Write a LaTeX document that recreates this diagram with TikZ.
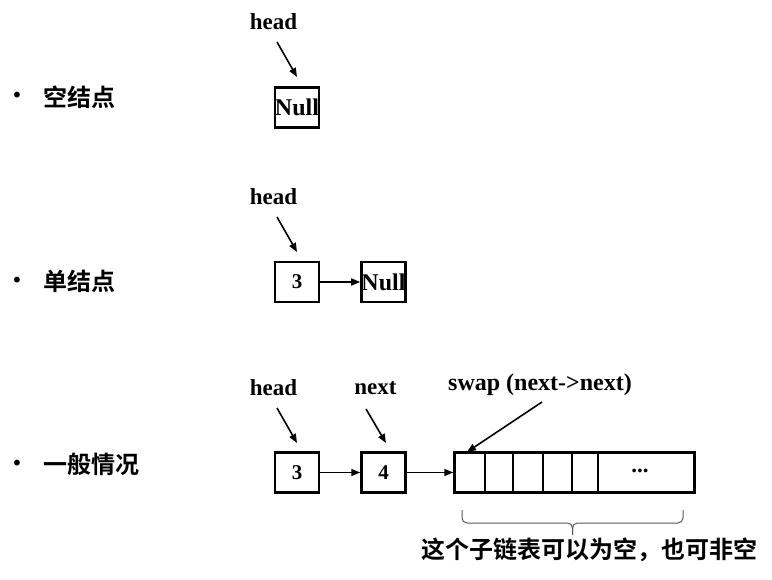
\documentclass[tikz,border=0pt]{standalone}
\usepackage{fontspec}
\setmainfont{Liberation Serif}
\newfontfamily\cjk{Noto Sans CJK SC}[BoldFont={* Bold}]
\newfontfamily\dejavu{DejaVu Sans}
\usetikzlibrary{arrows.meta}
\begin{document}
\begin{tikzpicture}[x=1pt,y=-1pt,
  lbl/.style={font=\fontsize{23}{23}\selectfont\bfseries, inner sep=0pt},
  cn/.style={font=\cjk\bfseries\fontsize{24}{24}\selectfont, inner sep=0pt, anchor=west},
  bul/.style={font=\dejavu\fontsize{20}{20}\selectfont, inner sep=0pt},
  cell/.style={draw, line width=2.5pt, minimum width=44pt, minimum height=40pt, inner sep=0pt,
    font=\fontsize{21}{21}\selectfont\bfseries},
  nullcell/.style={cell, font=\fontsize{24}{24}\selectfont\bfseries},
  ptr/.style={line width=1.6pt, -{Triangle[length=9pt,width=7pt]}},
  bracepath/.style={gray!70!black, line width=1pt, rounded corners=5pt}
]
\useasboundingbox (0,0) rectangle (772,580);
% bullets and labels
\node[bul] (b1) at (17,97) {•};
\node[bul] (b2) at (17,282) {•};
\node[bul] (b3) at (17,465) {•};
\node[cn] (t1) at (43,97) {空结点};
\node[cn] (t2) at (43,281) {单结点};
\node[cn] (t3) at (43,464) {一般情况};
% empty list
\node[lbl] (h1) at (273.5,22) {head};
\node[nullcell] (n1) at (297,107.5) {Null};
\coordinate (h1s) at (277,42);
\coordinate (h1e) at (297,77);
\draw[ptr] (h1s) -- (h1e);
% single node
\node[lbl] (h2) at (273.5,197) {head};
\node[cell] (a2) at (297,282) {3};
\node[nullcell] (n2) at (383.5,282) {Null};
\coordinate (h2s) at (277,217);
\coordinate (h2e) at (297,252);
\draw[ptr] (h2s) -- (h2e);
\draw[ptr] (a2.east) -- (n2.west);
% general case
\node[lbl] (h3) at (273.5,388) {head};
\node[lbl] (nx) at (375.5,388) {next};
\node[lbl, font=\fontsize{24}{24}\selectfont\bfseries] (sw) at (540,385) {swap (next->next)};
\node[cell] (a3) at (297,472.5) {3};
\node[cell] (b4) at (383.5,472.5) {4};
\node[draw, line width=2.5pt, minimum width=240pt, minimum height=40pt, inner sep=0pt] (arr) at (574.5,472.5) {};
\node[lbl] (dots) at (640,471) {...};
\foreach \xx in {485,513,543,572,598}{
  \draw[line width=1.5pt] (\xx,451.5) -- (\xx,493.5);
}
\coordinate (h3s) at (277,408);
\coordinate (h3e) at (297,443);
\coordinate (nxs) at (366,409);
\coordinate (nxe) at (386,443);
\coordinate (sws) at (542,402);
\coordinate (swe) at (467,452);
\draw[ptr] (h3s) -- (h3e);
\draw[ptr] (nxs) -- (nxe);
\draw[ptr] (sws) -- (swe);
\draw[ptr] (a3.east) -- (b4.west);
\draw[ptr] (b4.east) -- (arr.west);
% brace
\coordinate (brl) at (462,510);
\coordinate (brlc) at (462,523);
\coordinate (brm) at (572.5,523);
\coordinate (brt) at (572.5,535);
\coordinate (brrc) at (683,523);
\coordinate (brr) at (683,510);
\draw[bracepath] (brl) -- (brlc) -- (brm) -- (brt);
\draw[bracepath] (brr) -- (brrc) -- (brm) -- (brt);
\node[cn, anchor=center] (note) at (589.5,550) {这个子链表可以为空，也可非空};
\end{tikzpicture}
\end{document}
